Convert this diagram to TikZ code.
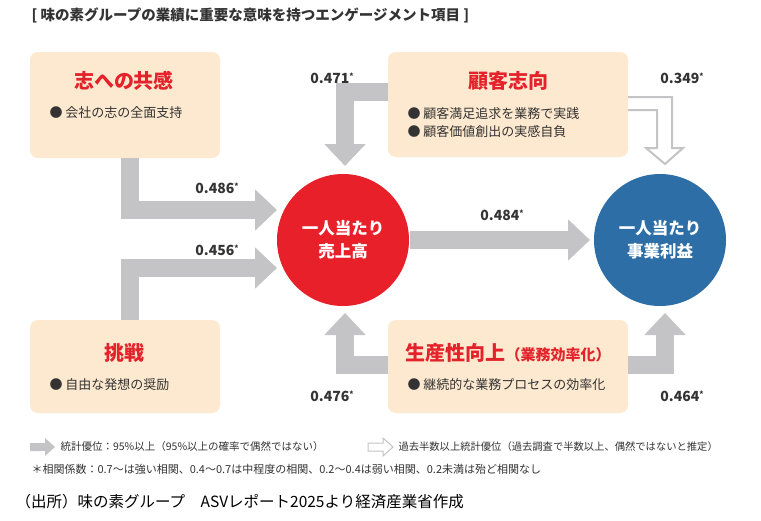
\documentclass[tikz,border=0pt]{standalone}
\usepackage{fontspec}
\setmainfont{Noto Sans CJK JP}
\usetikzlibrary{arrows.meta}
\definecolor{boxfill}{HTML}{FDE9CF}
\definecolor{agrey}{HTML}{C4C4C6}
\definecolor{tred}{HTML}{E4222B}
\definecolor{cred}{HTML}{E8202A}
\definecolor{cblue}{HTML}{2C6EA5}
\definecolor{txt}{HTML}{333333}
\newcommand{\myast}{\raisebox{4pt}{\fontsize{8}{8}\selectfont *}}
\begin{document}
\begin{tikzpicture}[x=1pt,y=-1pt,
  box/.style={fill=boxfill,rounded corners=8pt,draw=none},
  ttl/.style={text=tred,font=\fontsize{20}{22}\selectfont\bfseries,anchor=center},
  bul/.style={text=txt,font=\fontsize{13}{15}\selectfont,anchor=west},
  num/.style={text=txt,font=\fontsize{14}{16}\selectfont\bfseries},
  bigarrow/.style={draw=agrey,line width=18pt,line join=miter,-{Triangle[length=22pt 0 0,width=40pt 0 0]}},
  circ/.style={circle,minimum size=132pt,inner sep=0pt,text=white,align=center,font=\fontsize{16.5}{23}\selectfont\bfseries}]
\useasboundingbox (0,0) rectangle (761,520);
\fill[white] (0,0) rectangle (761,520);
\node[anchor=west,text=txt,font=\fontsize{14.5}{16}\selectfont\bfseries] (title) at (28,15) {[\ 味の素グループの業績に重要な意味を持つエンゲージメント項目\ ]};
% boxes
\path[box] (30,52) rectangle (220,158);
\node[ttl] (t1) at (124,81) {志への共感};
\node[bul] (b1) at (46,113) {● 会社の志の全面支持};
\path[box] (30,320) rectangle (220,413);
\node[ttl] (t2) at (124,353) {挑戦};
\node[bul] (b2) at (46,385) {● 自由な発想の奨励};
\path[box] (388,52) rectangle (628,157);
\node[ttl] (t3) at (508,81) {顧客志向};
\node[bul] (b3) at (404,114) {● 顧客満足追求を業務で実践};
\node[bul] (b4) at (404,132) {● 顧客価値創出の実感自負};
\path[box] (388,320) rectangle (628,413);
\node[ttl] (t4) at (508,353) {生産性向上{\fontsize{15}{17}\selectfont（業務効率化）}};
\node[bul] (b5) at (404,385) {● 継続的な業務プロセスの効率化};
% arrows
\draw[bigarrow] (130,158) -- (130,210) -- (277,210);
\draw[bigarrow] (130,320) -- (130,268) -- (277,268);
\draw[bigarrow] (410,240) -- (590,240);
\draw[bigarrow] (388,92) -- (345,92) -- (345,166);
\draw[bigarrow] (388,365) -- (345,365) -- (345,313);
\draw[bigarrow] (628,365) -- (665,365) -- (665,313);
\draw[agrey,line width=2pt,fill=white,line join=miter] (628,97) -- (672,97) -- (672,148) -- (683,148) -- (665,164) -- (646,148) -- (657,148) -- (657,110) -- (628,110);
% circles
\node[circ,fill=cred] (c1) at (343,240) {一人当たり\\売上高};
\node[circ,fill=cblue] (c2) at (660,240) {一人当たり\\事業利益};
% numbers
\node[num] (n1) at (217,188) {0.486\myast};
\node[num] (n2) at (217,250) {0.456\myast};
\node[num] (n3) at (502,215) {0.484\myast};
\node[num] (n4) at (332,78) {0.471\myast};
\node[num] (n5) at (332,396) {0.476\myast};
\node[num] (n6) at (682,78) {0.349\myast};
\node[num] (n7) at (682,396) {0.464\myast};
% legend
\fill[agrey] (30,443) -- (45,443) -- (45,438) -- (55,447) -- (45,456) -- (45,451) -- (30,451) -- cycle;
\node[anchor=west,text=txt,font=\fontsize{10.5}{12}\selectfont] (l1) at (57,447) {統計優位：95\%以上（95\%以上の確率で偶然ではない）};
\draw[agrey,line width=1pt,line join=miter] (368,443) -- (383,443) -- (383,438) -- (393,447) -- (383,456) -- (383,451) -- (368,451) -- cycle;
\node[anchor=west,text=txt,font=\fontsize{10.3}{12}\selectfont] (l2) at (395,447) {過去半数以上統計優位（過去調査で半数以上、偶然ではないと推定）};
\node[anchor=west,text=txt,font=\fontsize{11}{12}\selectfont] (l3) at (28,469) {＊相関係数：0.7〜は強い相関、0.4〜0.7は中程度の相関、0.2〜0.4は弱い相関、0.2未満は殆ど相関なし};
\node[anchor=west,text=black,font=\fontsize{15.5}{17}\selectfont] (src) at (12,502) {（出所）味の素グループ\quad ASVレポート2025より経済産業省作成};
\end{tikzpicture}
\end{document}
